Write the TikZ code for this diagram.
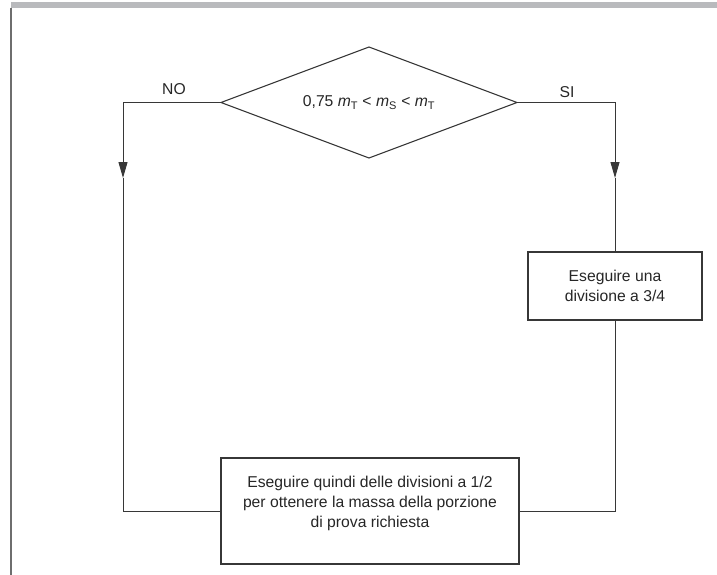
\documentclass[tikz,border=0pt]{standalone}
\usepackage{fontspec}
\setmainfont{Liberation Sans}
\usepackage{tikz}
\usetikzlibrary{shapes.geometric,arrows.meta}
\definecolor{bargray}{RGB}{185,186,189}
\definecolor{edgegray}{RGB}{110,110,110}
\definecolor{linegray}{RGB}{55,55,55}

\begin{document}
\begin{tikzpicture}[x=1pt,y=-1pt,
    txt/.style={font=\fontsize{15.7}{20}\selectfont, text=black!85},
    box/.style={draw=linegray, line width=1.1pt, outer sep=0pt, inner sep=0pt, txt},
    link/.style={draw=linegray, line width=1pt},
    arr/.style={link, -{Triangle[length=16pt,width=9pt]}}]
\useasboundingbox (0,0) rectangle (717,575);

% Page edge
\fill[bargray] (11,2) rectangle (717,8);
\draw[edgegray, line width=1.5pt] (11,8) -- (11,575);

% Decision
\node[box, diamond, aspect=2.67, minimum width=296pt, minimum height=111pt] (dia) at (369,102.5)
    {0,75 \textit{m}\textsubscript{T} < \textit{m}\textsubscript{S} < \textit{m}\textsubscript{T}};
\node[txt] (nolab) at (174,89) {NO};
\node[txt] (silab) at (567,92) {SI};

% Boxes
\node[box, minimum width=174pt, minimum height=68pt, align=center] (tre) at (615,286)
    {Eseguire una\\divisione a 3/4};
\node[box, minimum width=298pt, minimum height=106pt] (quindi) at (370,511) {};
\node[txt, align=center] (quinditxt) at (370,503)
    {Eseguire quindi delle divisioni a 1/2\\per ottenere la massa della porzione\\di prova richiesta};

% Connectors
\coordinate (noarrow) at (123,178);
\coordinate (siarrow) at (615,178);
\draw[arr] (dia.west) -| (noarrow);
\draw[link] (noarrow) |- (quindi.west);
\draw[arr] (dia.east) -| (siarrow);
\draw[link] (siarrow) -- (tre.north);
\draw[link] (tre.south) |- (quindi.east);
\end{tikzpicture}
\end{document}
